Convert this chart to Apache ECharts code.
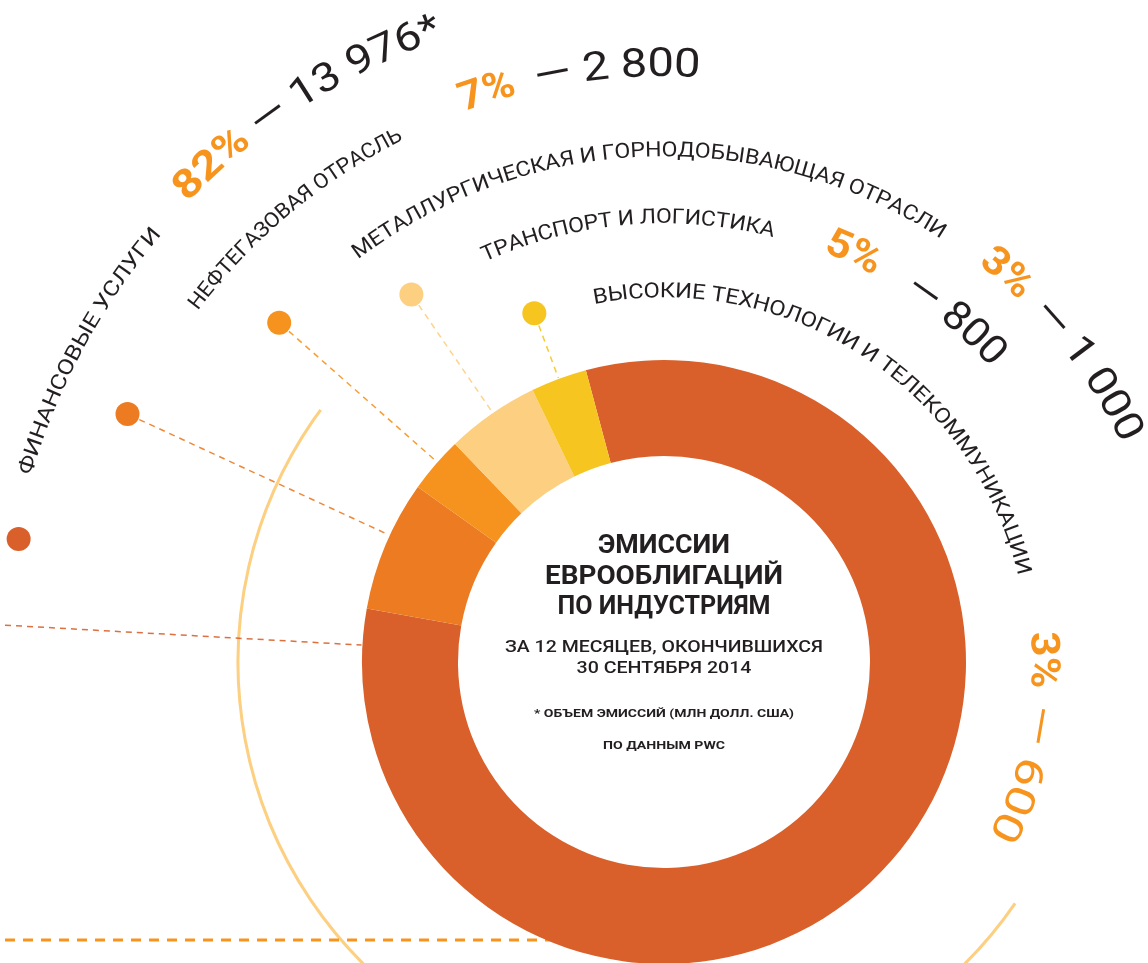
<!DOCTYPE html>
<html>
<head>
<meta charset="utf-8">
<script src="https://cdn.jsdelivr.net/npm/echarts@6/dist/echarts.min.js"></script>
<style>
  html, body { margin: 0; background: #fff; }
  #chart { width: 1148px; height: 963px; }
</style>
</head>
<body>
<div id="chart"></div>
<script>
// данные PwC, 12 месяцев до 30.09.2014
var industries = ['Финансовые услуги', 'Нефтегазовая отрасль', 'Металлургическая и горнодобывающая отрасли', 'Транспорт и логистика', 'Высокие технологии и телекоммуникации'];
var shares = [82, 7, 3, 5, 3];
var volumes = ['13 976*', '2 800', '1 000', '800', '600'];
var colors = ['#D9602A', '#EC7B22', '#F6931E', '#FDCF80', '#F6C51F'];

var cx = 664, cy = 662;
var rIn = 206, rOut = 302;
var startDeg = -15; // compass angle where the first slice starts
var dark = '#231F20', orange = '#F7941D';

// label rings (compass degrees, clockwise from top)
var rings = [
  { r: 665, rBig: 672, name: [286.4, 310.4], pct: [314.0, 321.5], val: [322.5, 340.5] },
  { r: 589, rBig: 596, name: [307.0, 333.5], pct: [340.0, 345.5], val: [347.5, 363.5] },
  { r: 511, rBig: 517, name: [322.8, 393.2], pct: [398.3, 404.5], val: [406.5, 424.5] },
  { r: 444, rBig: 450, name: [335.9, 374.4], pct: [381.2, 388.5], val: [393.0, 408.0] },
  { r: 370, rBig: 378, name: [349.0, 436.3], pct: [445.4, 454.0], val: [456.5, 478.0] }
];
var dotNudge = [0.6, 2, 0.6, 0.3, 0]; // small hand offsets of the marker dots

var ctx = document.createElement('canvas').getContext('2d');
function measure(str, size, weight, family) {
  ctx.font = weight + ' ' + size + 'px ' + family;
  return ctx.measureText(str).width;
}

function polar(deg, r) {
  var a = deg * Math.PI / 180;
  return [cx + r * Math.sin(a), cy - r * Math.cos(a)];
}

// text laid along a circle, squeezed to fit between two angles
function arcText(str, r, span, size, weight, color) {
  var family = 'Roboto';
  var widths = [], total = 0;
  for (var i = 0; i < str.length; i++) {
    widths.push(measure(str[i], size, weight, family));
    total += widths[i];
  }
  var k = ((span[1] - span[0]) * Math.PI / 180 * r) / total;
  var out = [], pos = 0;
  for (var j = 0; j < str.length; j++) {
    var mid = (pos + widths[j] / 2) * k;
    var deg = span[0] + mid / r * 180 / Math.PI;
    var p = polar(deg, r);
    pos += widths[j];
    if (str[j] === ' ') continue;
    out.push({
      type: 'text', x: p[0], y: p[1], rotation: -deg * Math.PI / 180, scaleX: k, z: 20, silent: true,
      style: { text: str[j], fontSize: size, fontWeight: weight, fontFamily: family, fill: color, align: 'center', verticalAlign: 'middle' }
    });
  }
  return out;
}

function centerText(str, y, size, weight, width) {
  var family = 'Roboto';
  var k = width / measure(str, size, weight, family);
  return {
    type: 'text', x: cx, y: y, scaleX: k, z: 20, silent: true,
    style: { text: str, fontSize: size, fontWeight: weight, fontFamily: family, fill: dark, align: 'center', verticalAlign: 'middle' }
  };
}

var graphics = [];

// thin light circle and the bottom dashed rule
graphics.push({
  type: 'arc', z: 0, silent: true,
  shape: { cx: cx, cy: cy, r: 426, startAngle: (124.5 - 90) * Math.PI / 180, endAngle: (306.3 - 90) * Math.PI / 180, clockwise: true },
  style: { stroke: '#FDCF80', lineWidth: 3, fill: null }
});
graphics.push({
  type: 'line', z: 0, silent: true,
  shape: { x1: 5, y1: 940, x2: 600, y2: 940 },
  style: { stroke: orange, lineWidth: 3, lineDash: [10, 8] }
});

// dots + leaders
var total = shares.reduce(function (a, b) { return a + b; }, 0);
var acc = startDeg;
shares.forEach(function (v, i) {
  var sweep = v / total * 360;
  var mid = acc + sweep / 2;
  var end = acc + sweep;
  acc = end;
  var dotDeg = (i === 0 ? end : mid) + dotNudge[i];
  var dotR = i === 0 ? 657 : rings[i].r + 2;
  var d = polar(dotDeg, dotR);
  graphics.push({ type: 'circle', z: 15, silent: true, shape: { cx: d[0], cy: d[1], r: 12 }, style: { fill: colors[i] } });
  var lineDeg = i === 0 ? 273.2 : dotDeg;
  var a = polar(lineDeg, i === 0 ? 660 : dotR - 13);
  var b = polar(lineDeg, rOut + 1);
  graphics.push({
    type: 'line', z: 5, silent: true,
    shape: { x1: a[0], y1: a[1], x2: b[0], y2: b[1] },
    style: { stroke: colors[i], lineWidth: 1.5, lineDash: [6, 5], opacity: 0.9 }
  });
});

// curved labels
industries.forEach(function (name, i) {
  var g = rings[i];
  graphics = graphics.concat(arcText(name.toUpperCase(), g.r, g.name, 21, 'normal', dark));
  graphics = graphics.concat(arcText(shares[i] + '%', g.rBig, g.pct, 40, 'bold', orange));
  graphics = graphics.concat(arcText('— ' + volumes[i], g.rBig, g.val, 40, 'normal', i === 4 ? orange : dark));
});

// title inside the ring
graphics.push(centerText('ЭМИССИИ', 547, 25, 'bold', 132));
graphics.push(centerText('ЕВРООБЛИГАЦИЙ', 578, 25, 'bold', 238));
graphics.push(centerText('ПО ИНДУСТРИЯМ', 608, 25, 'bold', 213));
graphics.push(centerText('ЗА 12 МЕСЯЦЕВ, ОКОНЧИВШИХСЯ', 648, 16, 500, 318));
graphics.push(centerText('30 СЕНТЯБРЯ 2014', 669, 16, 500, 175));
graphics.push(centerText('* ОБЪЕМ ЭМИССИЙ (МЛН ДОЛЛ. США)', 714, 11, 'bold', 260));
graphics.push(centerText('ПО ДАННЫМ PWC', 746, 11, 'bold', 122));

var myChart = echarts.init(document.getElementById('chart'));
myChart.setOption({
  animation: false,
  backgroundColor: '#fff',
  series: [{
    type: 'pie',
    center: [cx, cy],
    radius: [rIn, rOut],
    startAngle: 90 - startDeg,
    clockwise: true,
    silent: true,
    avoidLabelOverlap: false,
    label: { show: false },
    labelLine: { show: false },
    itemStyle: { borderWidth: 0 },
    data: industries.map(function (n, i) {
      return { name: n, value: shares[i], itemStyle: { color: colors[i] } };
    })
  }],
  graphic: { elements: graphics }
});
</script>
</body>
</html>
